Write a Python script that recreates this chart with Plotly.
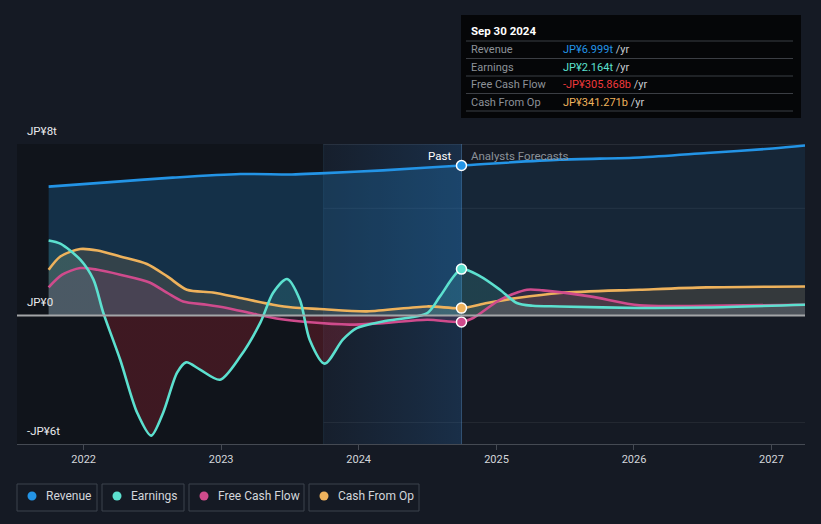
import plotly.graph_objects as go

# ---------------- data (JP¥ trillions) ----------------
rev_dates = ["2021-09-30", "2022-03-04", "2022-08-25", "2023-02-21", "2023-07-08", "2023-09-20",
             "2024-03-05", "2024-09-30", "2025-06-18", "2026-01-16", "2026-07-13", "2027-01-04", "2027-03-31"]
rev_vals = [6.01, 6.21, 6.43, 6.60, 6.58, 6.63, 6.77, 6.999, 7.27, 7.37, 7.58, 7.79, 7.93]

earn_dates = ["2021-09-30", "2021-10-31", "2021-12-23", "2022-01-27", "2022-02-22", "2022-04-08",
              "2022-05-23", "2022-06-29", "2022-07-31", "2022-09-06", "2022-09-30", "2022-11-06",
              "2022-12-29", "2023-02-21", "2023-04-15", "2023-05-19", "2023-06-25", "2023-07-29",
              "2023-08-24", "2023-10-03", "2023-11-20", "2023-12-27", "2024-03-05", "2024-07-01",
              "2024-08-04", "2024-09-30", "2024-11-19", "2025-01-10", "2025-02-24", "2025-04-07",
              "2025-06-18", "2026-01-16", "2026-07-13", "2027-03-31"]
earn_vals = [3.50, 3.35, 2.60, 1.67, 0.13, -2.07, -4.54, -5.61, -4.54, -2.67, -2.19, -2.53,
             -3.00, -1.91, -0.34, 1.06, 1.70, 0.73, -1.13, -2.25, -1.13, -0.59, -0.28, 0.11,
             0.89, 2.164, 1.82, 1.20, 0.58, 0.45, 0.42, 0.35, 0.37, 0.50]

fcf_dates = ["2021-09-30", "2021-11-05", "2021-12-23", "2022-02-07", "2022-04-08", "2022-06-25",
             "2022-08-11", "2022-09-22", "2022-11-24", "2023-01-16", "2023-03-27", "2023-06-06",
             "2023-08-16", "2023-12-08", "2024-03-05", "2024-07-01", "2024-09-30", "2024-10-31",
             "2025-01-10", "2025-03-23", "2025-05-04", "2025-09-06", "2026-01-16", "2026-07-13",
             "2027-03-31"]
fcf_vals = [1.31, 1.90, 2.21, 2.13, 1.90, 1.54, 1.05, 0.65, 0.50, 0.35, 0.08, -0.17,
            -0.31, -0.43, -0.36, -0.20, -0.306, -0.12, 0.73, 1.20, 1.17, 0.89, 0.47, 0.45, 0.50]

cfo_dates = ["2021-09-30", "2021-10-31", "2021-12-23", "2022-02-07", "2022-04-08", "2022-06-18",
             "2022-08-11", "2022-10-02", "2022-12-10", "2023-02-21", "2023-05-19", "2023-07-10",
             "2023-09-20", "2024-01-23", "2024-07-01", "2024-09-30", "2024-12-07", "2025-02-24",
             "2025-06-18", "2026-01-16", "2026-07-13", "2027-03-31"]
cfo_vals = [2.13, 2.75, 3.10, 3.03, 2.75, 2.40, 1.82, 1.20, 1.07, 0.81, 0.50, 0.37,
            0.30, 0.19, 0.42, 0.341, 0.58, 0.81, 1.05, 1.20, 1.31, 1.35]

year_ticks = ["2022-01-01", "2023-01-01", "2024-01-01", "2025-01-01", "2026-01-01", "2027-01-01"]
year_labels = ["2022", "2023", "2024", "2025", "2026", "2027"]
y_labels = {8: "JP¥8t", 0: "JP¥0", -6: "-JP¥6t"}

now_date = "2024-09-30"
band_start = "2023-09-30"
x_start, x_end = "2021-07-08", "2027-03-31"

tooltip_title = "Sep 30 2024"
tooltip_rows = [("Revenue", "JP¥6.999t", "#2394e6"),
                ("Earnings", "JP¥2.164t", "#5ce0cf"),
                ("Free Cash Flow", "-JP¥305.868b", "#f0393c"),
                ("Cash From Op", "JP¥341.271b", "#eeb25c")]

C_REV, C_EARN, C_FCF, C_CFO = "#2394e6", "#5ce0cf", "#cf4b8c", "#eeb25c"
FONT = "Roboto"
BG = "#151a24"

# ---------------- layout helpers (pixel -> paper) ----------------
W, H = 821, 524
ML, MR, MT, MB = 17, 16, 144, 80
PW, PH = W - ML - MR, H - MT - MB


def px(x):
    return (x - ML) / PW


def py(y):
    return (H - MB - y) / PH


fig = go.Figure()

# highlighted "last year" band with horizontal gradient
fig.add_trace(go.Scatter(
    x=[band_start, now_date, now_date, band_start, band_start], y=[-6, -6, 8, 8, -6],
    mode="lines", line=dict(width=0), fill="toself",
    fillgradient=dict(type="horizontal",
                      colorscale=[[0, "rgba(40,110,180,0.06)"], [1, "rgba(40,120,200,0.22)"]]),
    hoverinfo="skip", showlegend=False))

# revenue fills (past stronger, forecast weaker)
i_now = rev_dates.index(now_date)
fig.add_trace(go.Scatter(x=rev_dates[:i_now + 1], y=rev_vals[:i_now + 1], mode="lines",
                         line=dict(width=0, shape="spline", smoothing=0.8), fill="tozeroy",
                         fillcolor="rgba(35,148,230,0.22)", hoverinfo="skip", showlegend=False))
fig.add_trace(go.Scatter(x=rev_dates[i_now:], y=rev_vals[i_now:], mode="lines",
                         line=dict(width=0, shape="spline", smoothing=0.8), fill="tozeroy",
                         fillcolor="rgba(35,148,230,0.10)", hoverinfo="skip", showlegend=False))

# other fills
fig.add_trace(go.Scatter(x=cfo_dates, y=cfo_vals, mode="lines",
                         line=dict(width=0, shape="spline", smoothing=0.8), fill="tozeroy",
                         fillcolor="rgba(238,178,92,0.14)", hoverinfo="skip", showlegend=False))
fig.add_trace(go.Scatter(x=fcf_dates, y=fcf_vals, mode="lines",
                         line=dict(width=0, shape="spline", smoothing=0.8), fill="tozeroy",
                         fillcolor="rgba(207,75,140,0.14)", hoverinfo="skip", showlegend=False))
fig.add_trace(go.Scatter(x=earn_dates, y=earn_vals, mode="lines",
                         line=dict(width=0, shape="spline", smoothing=0.8), fill="tozeroy",
                         fillgradient=dict(type="vertical", start=-0.5, stop=0.5,
                                           colorscale=[[0, "rgba(170,35,50,0.30)"],
                                                       [0.5, "rgba(170,35,50,0.30)"],
                                                       [0.5001, "rgba(92,224,207,0.14)"],
                                                       [1, "rgba(92,224,207,0.14)"]]),
                         hoverinfo="skip", showlegend=False))

# lines
for d, v, c, name in [(rev_dates, rev_vals, C_REV, "Revenue"),
                      (cfo_dates, cfo_vals, C_CFO, "Cash From Op"),
                      (fcf_dates, fcf_vals, C_FCF, "Free Cash Flow"),
                      (earn_dates, earn_vals, C_EARN, "Earnings")]:
    fig.add_trace(go.Scatter(x=d, y=v, mode="lines", name=name,
                             line=dict(color=c, width=2.6, shape="spline", smoothing=0.8),
                             hoverinfo="skip", showlegend=False))

# markers at current date
for d, v, c in [(rev_dates, rev_vals, C_REV), (earn_dates, earn_vals, C_EARN),
                (cfo_dates, cfo_vals, C_CFO), (fcf_dates, fcf_vals, C_FCF)]:
    i = d.index(now_date)
    fig.add_trace(go.Scatter(x=[d[i]], y=[v[i]], mode="markers",
                             marker=dict(color=c, size=10, line=dict(color="white", width=1.5)),
                             hoverinfo="skip", showlegend=False))

shapes = []
# dark past region
shapes.append(dict(type="rect", xref="x", yref="y", x0=x_start, x1=band_start, y0=-6, y1=8,
                   fillcolor="#10141b", line=dict(width=0), layer="below"))
# grid lines
for yv, col, w in [(8, "#3a3f48", 1), (5, "rgba(255,255,255,0.07)", 1),
                   (-5, "rgba(255,255,255,0.07)", 1), (0, "#a3a5a8", 2)]:
    shapes.append(dict(type="line", xref="paper", yref="y", x0=0, x1=1, y0=yv, y1=yv,
                       line=dict(color=col, width=w), layer="above" if yv == 0 else "below"))
# vertical lines
shapes.append(dict(type="line", xref="x", yref="y", x0=now_date, x1=now_date, y0=-6, y1=8,
                   line=dict(color="rgba(90,140,190,0.45)", width=1), layer="below"))
shapes.append(dict(type="line", xref="x", yref="y", x0=band_start, x1=band_start, y0=-6, y1=8,
                   line=dict(color="rgba(90,140,190,0.15)", width=1), layer="below"))

annotations = []
# y labels
for yv, txt in y_labels.items():
    annotations.append(dict(xref="paper", yref="y", x=px(25), y=yv, yshift=13, text=txt,
                            showarrow=False, xanchor="left", yanchor="middle",
                            font=dict(family=FONT, size=11.5, color="#e8eaed")))

# Past / forecast labels
annotations.append(dict(xref="x", yref="paper", x=now_date, y=py(156), xshift=-8, text="Past",
                        showarrow=False, xanchor="right", yanchor="middle",
                        font=dict(family=FONT, size=11.5, color="#ffffff")))
annotations.append(dict(xref="x", yref="paper", x=now_date, y=py(156), xshift=8,
                        text="Analysts Forecasts", showarrow=False, xanchor="left",
                        yanchor="middle", font=dict(family=FONT, size=11.5, color="#8b9199")))

# tooltip box
shapes.append(dict(type="rect", xref="paper", yref="paper", x0=px(461), x1=px(801),
                   y0=py(118), y1=py(15), fillcolor="#050608", line=dict(width=0), layer="above"))
annotations.append(dict(xref="paper", yref="paper", x=px(469), y=py(31), text="<b>" + tooltip_title + "</b>",
                        showarrow=False, xanchor="left", yanchor="middle",
                        font=dict(family=FONT, size=11.5, color="#ffffff")))
sep_ys = [41, 58.5, 76, 93.5, 111]
for sy in sep_ys:
    shapes.append(dict(type="line", xref="paper", yref="paper", x0=px(466), x1=px(793),
                       y0=py(sy), y1=py(sy), line=dict(color="#3b3e44", width=1), layer="above"))
for k, (lab, val, col) in enumerate(tooltip_rows):
    yc = (sep_ys[k] + sep_ys[k + 1]) / 2
    annotations.append(dict(xref="paper", yref="paper", x=px(469), y=py(yc), text=lab,
                            showarrow=False, xanchor="left", yanchor="middle",
                            font=dict(family=FONT, size=11, color="#8d9299")))
    annotations.append(dict(xref="paper", yref="paper", x=px(561), y=py(yc),
                            text=f"<span style='color:{col}'>{val}</span> /yr",
                            showarrow=False, xanchor="left", yanchor="middle",
                            font=dict(family=FONT, size=11, color="#c8ccd1")))

# custom legend
legend_items = [("Revenue", C_REV, 17, 97), ("Earnings", C_EARN, 102, 184),
                ("Free Cash Flow", C_FCF, 189, 304), ("Cash From Op", C_CFO, 309, 419)]
for name, col, x0, x1 in legend_items:
    shapes.append(dict(type="rect", xref="paper", yref="paper", x0=px(x0), x1=px(x1),
                       y0=py(511), y1=py(484), line=dict(color="#3d434c", width=1),
                       fillcolor="rgba(0,0,0,0)"))
    shapes.append(dict(type="circle", xref="paper", yref="paper", x0=px(x0 + 10.5), x1=px(x0 + 19.5),
                       y0=py(500.5), y1=py(491.5), fillcolor=col, line=dict(width=0)))
    annotations.append(dict(xref="paper", yref="paper", x=px(x0 + 27), y=py(496), text=name,
                            showarrow=False, xanchor="left", yanchor="middle",
                            font=dict(family=FONT, size=12, color="#d3d6db")))

fig.update_layout(
    width=W, height=H, margin=dict(l=ML, r=MR, t=MT, b=MB),
    paper_bgcolor=BG, plot_bgcolor=BG,
    shapes=shapes, annotations=annotations, showlegend=False,
    xaxis=dict(type="date", range=[x_start, x_end], tickvals=year_ticks, ticktext=year_labels,
               showgrid=False, zeroline=False, showline=True, linecolor="#454a53", linewidth=1,
               ticks="outside", ticklen=5, tickcolor="#454a53",
               tickfont=dict(family=FONT, size=11, color="#d3d6db"), fixedrange=True),
    yaxis=dict(range=[-6, 8], showgrid=False, zeroline=False, showticklabels=False,
               showline=False, fixedrange=True),
)

fig.write_html("out.html", config={"displayModeBar": False},
               post_script="document.body.style.margin='0';document.body.style.padding='0';"
                           "document.body.style.overflow='hidden';"
                           f"document.body.style.background='{BG}';")
